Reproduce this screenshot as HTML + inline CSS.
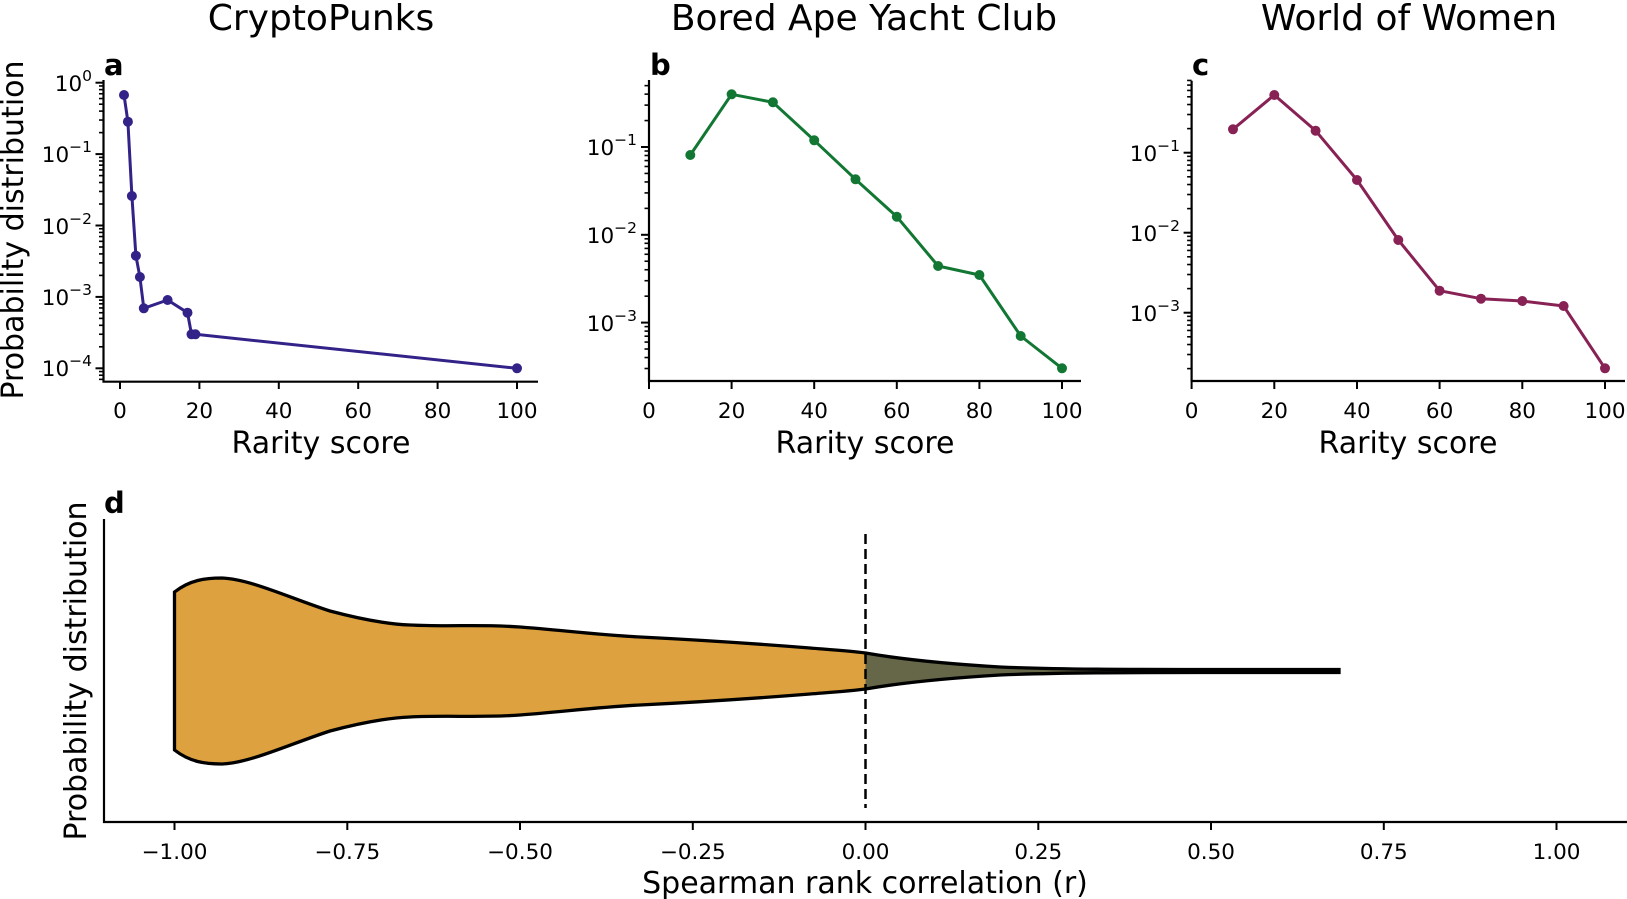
<!DOCTYPE html>
<html><head><meta charset="utf-8"><style>
html,body{margin:0;padding:0;background:#fff;}
svg{display:block;font-family:"DejaVu Sans","Liberation Sans",sans-serif;}
</style></head><body>
<svg id="s" width="1627" height="899" viewBox="0 0 1627 899" xmlns="http://www.w3.org/2000/svg">
<g font-size="36" text-anchor="middle" fill="#000">
<text x="321" y="30">CryptoPunks</text>
<text x="864" y="30">Bored Ape Yacht Club</text>
<text x="1409" y="30">World of Women</text>
</g>
<g font-size="29" font-weight="bold">
<text x="104" y="75">a</text>
<text x="650" y="75">b</text>
<text x="1192" y="75">c</text>
<text x="104" y="513">d</text>
</g>
<g stroke="#000" stroke-width="2.2" fill="none">
<polyline points="103.5,80 103.5,381.7 538,381.7"/>
<polyline points="649,80 649,381 1081,381"/>
<polyline points="1191.6,80.7 1191.6,381 1625,381"/>
<polyline points="104,519 104,822 1627,822"/>
</g>
<g id="ticks" stroke="#000" stroke-width="1.6"></g>
<g stroke="#000" stroke-width="2">
<line x1="120" y1="381.7" x2="120" y2="389"/><line x1="199.4" y1="381.7" x2="199.4" y2="389"/><line x1="278.8" y1="381.7" x2="278.8" y2="389"/><line x1="358.2" y1="381.7" x2="358.2" y2="389"/><line x1="437.6" y1="381.7" x2="437.6" y2="389"/><line x1="517" y1="381.7" x2="517" y2="389"/>
<line x1="649" y1="381" x2="649" y2="389"/><line x1="731.6" y1="381" x2="731.6" y2="389"/><line x1="814.2" y1="381" x2="814.2" y2="389"/><line x1="896.8" y1="381" x2="896.8" y2="389"/><line x1="979.4" y1="381" x2="979.4" y2="389"/><line x1="1062" y1="381" x2="1062" y2="389"/>
<line x1="1191.6" y1="381" x2="1191.6" y2="389"/><line x1="1274.3" y1="381" x2="1274.3" y2="389"/><line x1="1357" y1="381" x2="1357" y2="389"/><line x1="1439.6" y1="381" x2="1439.6" y2="389"/><line x1="1522.3" y1="381" x2="1522.3" y2="389"/><line x1="1605" y1="381" x2="1605" y2="389"/>
<line x1="174.5" y1="822" x2="174.5" y2="830"/><line x1="347.3" y1="822" x2="347.3" y2="830"/><line x1="520" y1="822" x2="520" y2="830"/><line x1="692.8" y1="822" x2="692.8" y2="830"/><line x1="865.5" y1="822" x2="865.5" y2="830"/><line x1="1038.3" y1="822" x2="1038.3" y2="830"/><line x1="1211" y1="822" x2="1211" y2="830"/><line x1="1383.8" y1="822" x2="1383.8" y2="830"/><line x1="1556.5" y1="822" x2="1556.5" y2="830"/>
</g>
<g font-size="21.5" text-anchor="middle">
<text x="120" y="418">0</text><text x="199.4" y="418">20</text><text x="278.8" y="418">40</text><text x="358.2" y="418">60</text><text x="437.6" y="418">80</text><text x="517" y="418">100</text>
<text x="649" y="418">0</text><text x="731.6" y="418">20</text><text x="814.2" y="418">40</text><text x="896.8" y="418">60</text><text x="979.4" y="418">80</text><text x="1062" y="418">100</text>
<text x="1191.6" y="418">0</text><text x="1274.3" y="418">20</text><text x="1357" y="418">40</text><text x="1439.6" y="418">60</text><text x="1522.3" y="418">80</text><text x="1605" y="418">100</text>
<text x="174.5" y="859">−1.00</text><text x="347.3" y="859">−0.75</text><text x="520" y="859">−0.50</text><text x="692.8" y="859">−0.25</text><text x="865.5" y="859">0.00</text><text x="1038.3" y="859">0.25</text><text x="1211" y="859">0.50</text><text x="1383.8" y="859">0.75</text><text x="1556.5" y="859">1.00</text>
</g>
<g font-size="21.5" text-anchor="end">
<text x="92" y="91">10<tspan font-size="15.5" dy="-10">0</tspan></text>
<text x="92" y="162">10<tspan font-size="15.5" dy="-10">−1</tspan></text>
<text x="92" y="234">10<tspan font-size="15.5" dy="-10">−2</tspan></text>
<text x="92" y="305">10<tspan font-size="15.5" dy="-10">−3</tspan></text>
<text x="92" y="376">10<tspan font-size="15.5" dy="-10">−4</tspan></text>
<text x="637" y="155">10<tspan font-size="15.5" dy="-10">−1</tspan></text>
<text x="637" y="243">10<tspan font-size="15.5" dy="-10">−2</tspan></text>
<text x="637" y="331">10<tspan font-size="15.5" dy="-10">−3</tspan></text>
<text x="1180" y="161">10<tspan font-size="15.5" dy="-10">−1</tspan></text>
<text x="1180" y="241">10<tspan font-size="15.5" dy="-10">−2</tspan></text>
<text x="1180" y="321">10<tspan font-size="15.5" dy="-10">−3</tspan></text>
</g>
<g font-size="30" text-anchor="middle">
<text x="321" y="453">Rarity score</text>
<text x="865" y="453">Rarity score</text>
<text x="1408" y="453">Rarity score</text>
<text x="865" y="893">Spearman rank correlation (r)</text>
<text transform="translate(23,230) rotate(-90)">Probability distribution</text>
<text transform="translate(86,671) rotate(-90)">Probability distribution</text>
</g>
<g fill="none" stroke-width="3" stroke-linejoin="round">
<polyline stroke="#332288" points="124,95 127.9,121.7 131.9,196 135.9,255.7 139.9,277 143.8,308.3 167.6,300 187.5,312.7 191.5,334.3 195.4,334.3 517,368.3"/>
<polyline stroke="#117733" points="690.3,155 731.6,94.3 772.9,102.3 814.2,140.3 855.5,179.3 896.8,216.7 938.1,266 979.4,275 1020.7,336 1062,368.3"/>
<polyline stroke="#882255" points="1233,129.3 1274.3,95 1315.6,130.7 1357,180 1398.3,240 1439.6,290.7 1481,298.7 1522.3,301 1563.6,306 1605,368.3"/>
</g>
<g fill="#332288">
<circle cx="124" cy="95" r="5"/><circle cx="127.9" cy="121.7" r="5"/><circle cx="131.9" cy="196" r="5"/><circle cx="135.9" cy="255.7" r="5"/><circle cx="139.9" cy="277" r="5"/><circle cx="143.8" cy="308.3" r="5"/><circle cx="167.6" cy="300" r="5"/><circle cx="187.5" cy="312.7" r="5"/><circle cx="191.5" cy="334.3" r="5"/><circle cx="195.4" cy="334.3" r="5"/><circle cx="517" cy="368.3" r="5"/>
</g>
<g fill="#117733">
<circle cx="690.3" cy="155" r="5"/><circle cx="731.6" cy="94.3" r="5"/><circle cx="772.9" cy="102.3" r="5"/><circle cx="814.2" cy="140.3" r="5"/><circle cx="855.5" cy="179.3" r="5"/><circle cx="896.8" cy="216.7" r="5"/><circle cx="938.1" cy="266" r="5"/><circle cx="979.4" cy="275" r="5"/><circle cx="1020.7" cy="336" r="5"/><circle cx="1062" cy="368.3" r="5"/>
</g>
<g fill="#882255">
<circle cx="1233" cy="129.3" r="5"/><circle cx="1274.3" cy="95" r="5"/><circle cx="1315.6" cy="130.7" r="5"/><circle cx="1357" cy="180" r="5"/><circle cx="1398.3" cy="240" r="5"/><circle cx="1439.6" cy="290.7" r="5"/><circle cx="1481" cy="298.7" r="5"/><circle cx="1522.3" cy="301" r="5"/><circle cx="1563.6" cy="306" r="5"/><circle cx="1605" cy="368.3" r="5"/>
</g>
<defs>
<clipPath id="L"><rect x="0" y="500" width="865.5" height="330"/></clipPath>
<clipPath id="R"><rect x="865.5" y="500" width="800" height="330"/></clipPath>
<path id="v" d="M174.5,592 C190,580 205,578 222,578 C250,579 290,598 330,611 C360,619 385,624 410,625 C450,627 480,624 520,627 C560,630 600,635 640,637 C700,640 760,644 810,648 C835,650 850,651 865.5,653 C900,659 950,664 1000,667 C1060,669.5 1130,669.5 1200,669.5 L1339,669.5 L1339,672.5 L1200,672.5 C1130,672.5 1060,672.5 1000,675 C950,678 900,683 865.5,689 C850,691 835,692 810,694 C760,698 700,702 640,705 C600,707 560,712 520,715 C480,718 450,715 410,717 C385,718 360,723 330,731 C290,744 250,763 222,764 C205,764 190,762 174.5,750 Z"/>
</defs>
<use href="#v" fill="#DDA23F" clip-path="url(#L)"/>
<use href="#v" fill="#666648" clip-path="url(#R)"/>
<use href="#v" fill="none" stroke="#000" stroke-width="3.3"/>
<line x1="865.5" y1="534" x2="865.5" y2="808" stroke="#000" stroke-width="2.5" stroke-dasharray="10,5"/>
</svg>
<script>
(function(){
var g=document.getElementById('ticks'),ns='http://www.w3.org/2000/svg';
function t(x,y0,D,top,bot){
 for(var e=-6;e<=1;e++)for(var k=1;k<=9;k++){
  var y=y0-(e+Math.log10(k))*D;
  if(y<top-0.5||y>bot)continue;
  var l=document.createElementNS(ns,'line');
  var len=k==1?8:4.5;
  l.setAttribute('x1',x);l.setAttribute('x2',x-len);
  l.setAttribute('y1',y);l.setAttribute('y2',y);
  if(k==1)l.setAttribute('stroke-width','2');
  g.appendChild(l);
 }
}
t(103.5,82.7,71.4,80,381);
t(649,59.2,87.8,80,380);
t(1191.6,72.7,80,80.7,380);
})();
</script>
</body></html>
